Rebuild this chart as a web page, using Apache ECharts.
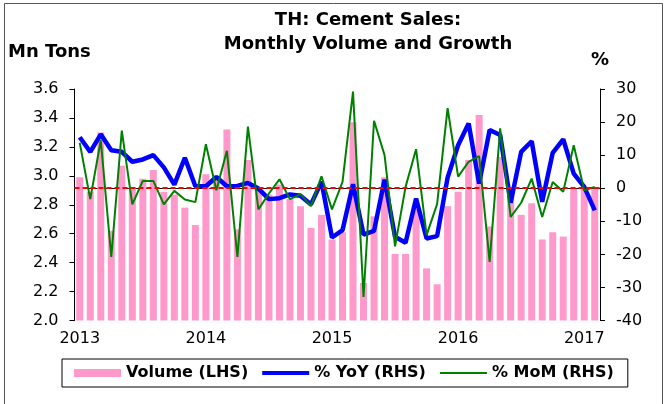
<!DOCTYPE html>
<html>
<head>
<meta charset="utf-8">
<script src="https://cdn.jsdelivr.net/npm/echarts@6/dist/echarts.min.js"></script>
<style>
  html, body { margin: 0; padding: 0; background: #fff; }
  #main { width: 669px; height: 404px; }
</style>
</head>
<body>
<div id="main"></div>
<script>
// months Jan 2013 .. Feb 2017
var months = [
  '2013-01','2013-02','2013-03','2013-04','2013-05','2013-06','2013-07','2013-08','2013-09','2013-10','2013-11','2013-12',
  '2014-01','2014-02','2014-03','2014-04','2014-05','2014-06','2014-07','2014-08','2014-09','2014-10','2014-11','2014-12',
  '2015-01','2015-02','2015-03','2015-04','2015-05','2015-06','2015-07','2015-08','2015-09','2015-10','2015-11','2015-12',
  '2016-01','2016-02','2016-03','2016-04','2016-05','2016-06','2016-07','2016-08','2016-09','2016-10','2016-11','2016-12',
  '2017-01','2017-02'
];
// Mn tons (LHS)
var volume = [
  2.99, 2.89, 3.30, 2.62, 3.07, 2.92, 2.98, 3.04, 2.89, 2.87, 2.78, 2.66,
  3.01, 2.98, 3.32, 2.63, 3.11, 2.91, 2.87, 2.94, 2.84, 2.79, 2.64, 2.73,
  2.56, 2.61, 3.37, 2.26, 2.72, 2.99, 2.46, 2.46, 2.77, 2.36, 2.25, 2.79,
  2.89, 3.11, 3.42, 2.65, 3.13, 2.86, 2.73, 2.81, 2.56, 2.61, 2.58, 2.91,
  2.91, 2.91
];
// % YoY (RHS)
var yoy = [
  15.4, 11.0, 16.3, 11.5, 11.0, 8.0, 8.7, 10.0, 6.3, 1.1, 9.2, 0.6,
  0.6, 3.4, 0.6, 0.7, 1.6, -0.1, -3.3, -3.0, -1.9, -2.3, -4.9, 2.0,
  -14.9, -12.7, 1.2, -14.0, -12.9, 2.6, -14.7, -16.5, -3.1, -15.2, -14.5, 3.2,
  13.0, 19.6, 1.4, 17.6, 16.1, -4.4, 11.0, 14.2, -4.1, 10.7, 14.8, 4.4,
  0.4, -6.7
];
// % MoM (RHS)
var mom = [
  13.7, -3.3, 14.5, -20.8, 17.4, -4.9, 2.2, 2.2, -4.9, -0.8, -3.4, -4.2,
  13.3, -0.6, 11.3, -20.8, 18.6, -6.4, -1.6, 2.7, -3.3, -1.8, -5.4, 3.6,
  -6.4, 1.9, 29.2, -32.9, 20.4, 10.0, -17.6, 0.4, 11.8, -14.2, -4.8, 24.2,
  3.5, 8.0, 9.7, -22.3, 18.1, -8.7, -4.4, 2.9, -8.7, 1.9, -1.1, 13.0,
  -0.6, 0.4
];

var font = 'DejaVu Sans';
var chart = echarts.init(document.getElementById('main'));

chart.setOption({
  animation: false,
  backgroundColor: '#fff',
  title: {
    text: 'TH: Cement Sales:\nMonthly Volume and Growth',
    left: 368,
    top: 8,
    textAlign: 'center',
    padding: 0,
    textStyle: { fontFamily: font, fontSize: 18, fontWeight: 'bold', lineHeight: 24, color: '#000' }
  },
  graphic: [
    { type: 'rect', shape: { x: 4.5, y: 3.5, width: 658, height: 420 }, style: { fill: 'none', stroke: '#555', lineWidth: 1 }, silent: true },
    { type: 'text', left: 8, top: 43, style: { text: 'Mn Tons', font: 'bold 18px "DejaVu Sans"', fill: '#000' } },
    { type: 'text', left: 591, top: 51, style: { text: '%', font: 'bold 18px "DejaVu Sans"', fill: '#000' } }
  ],
  legend: {
    left: 62,
    top: 359,
    padding: [6, 14, 6, 12],
    borderColor: '#000',
    borderWidth: 1,
    itemWidth: 47,
    itemHeight: 8,
    itemGap: 14,
    textStyle: { fontFamily: font, fontSize: 16, fontWeight: 'bold', color: '#000' },
    data: [
      { name: 'Volume (LHS)', icon: 'rect' },
      { name: '% YoY (RHS)', icon: 'path://M0 0H47V4H0Z', itemStyle: { borderWidth: 0 } },
      { name: '% MoM (RHS)', icon: 'path://M0 0H47V2H0Z', itemStyle: { borderWidth: 0 } }
    ]
  },
  grid: { left: 74.5, right: 69, top: 89, bottom: 83.5, containLabel: false },
  xAxis: {
    type: 'category',
    data: months,
    boundaryGap: true,
    axisLine: { lineStyle: { color: '#000', width: 1 } },
    axisTick: {
      length: 5,
      interval: function (i) { return i % 12 === 0; },
      lineStyle: { color: '#000' }
    },
    axisLabel: {
      interval: function (i) { return i % 12 === 0; },
      formatter: function (v) { return v.slice(0, 4); },
      margin: 10,
      color: '#000',
      fontFamily: font,
      fontSize: 16
    },
    splitLine: { show: false }
  },
  yAxis: [
    {
      type: 'value',
      min: 2.0,
      max: 3.6,
      interval: 0.2,
      position: 'left',
      axisLine: { show: true, lineStyle: { color: '#000' } },
      axisTick: { show: true, length: 5, lineStyle: { color: '#000' } },
      axisLabel: {
        formatter: function (v) { return v.toFixed(1); },
        margin: 16,
        color: '#000',
        fontFamily: font,
        fontSize: 16
      },
      splitLine: { show: false }
    },
    {
      type: 'value',
      min: -40,
      max: 30,
      interval: 10,
      position: 'right',
      axisLine: { show: true, lineStyle: { color: '#000' } },
      axisTick: { show: true, length: 5, lineStyle: { color: '#000' } },
      axisLabel: { margin: 16, color: '#000', fontFamily: font, fontSize: 16 },
      splitLine: { show: false }
    }
  ],
  series: [
    {
      name: 'Volume (LHS)',
      type: 'bar',
      yAxisIndex: 0,
      data: volume,
      barWidth: 7,
      itemStyle: { color: '#ff99cc' },
      z: 1
    },
    {
      name: '% YoY (RHS)',
      type: 'line',
      yAxisIndex: 1,
      data: yoy,
      symbol: 'none',
      lineStyle: { color: '#0000ff', width: 4.5 },
      itemStyle: { color: '#0000ff' },
      markLine: {
        silent: true,
        symbol: 'none',
        label: { show: false },
        lineStyle: { color: '#ff0000', width: 2, type: [5, 3] },
        data: [{ yAxis: 0 }]
      },
      z: 3
    },
    {
      name: '% MoM (RHS)',
      type: 'line',
      yAxisIndex: 1,
      data: mom,
      symbol: 'none',
      lineStyle: { color: '#008000', width: 2 },
      itemStyle: { color: '#008000' },
      z: 4
    }
  ]
});
</script>
</body>
</html>
